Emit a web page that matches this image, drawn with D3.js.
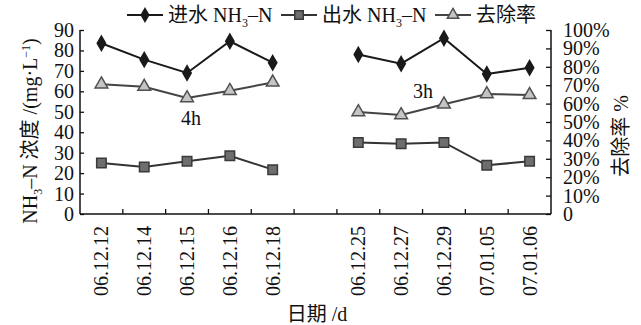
<!DOCTYPE html>
<html>
<head>
<meta charset="utf-8">
<script src="https://cdn.jsdelivr.net/npm/d3@7"></script>
<style>
  body { margin: 0; background: #fff; }
  svg text { font-family: "Liberation Serif", "Noto Sans CJK SC", serif; fill: #111; }
</style>
</head>
<body>
<div id="chart"></div>
<script>
// dates on the x axis, two runs (4h then 3h)
var dates = ["06.12.12", "06.12.14", "06.12.15", "06.12.16", "06.12.18",
             "06.12.25", "06.12.27", "06.12.29", "07.01.05", "07.01.06"];
var influent = [83.5, 75.5, 69, 84.5, 74, 78, 73.5, 86, 68.5, 71.5];
var effluent = [25, 23, 25.8, 28.5, 21.7, 35, 34.4, 35, 23.8, 25.8];
var removal = [70.5, 69.2, 63, 67, 71.5, 55.4, 53.8, 59.6, 65.2, 64.7];
var leftTicks = [0, 10, 20, 30, 40, 50, 60, 70, 80, 90];
var rightTicks = [0, 10, 20, 30, 40, 50, 60, 70, 80, 90, 100];

var width = 641, height = 325;
var mLeft = 80, mRight = 551, mTop = 30, mBottom = 214;

var svg = d3.select("#chart").append("svg")
    .attr("width", width).attr("height", height);

// empty slot between the two runs
var domain = dates.slice(0, 5).concat(["gap"]).concat(dates.slice(5));
var x = d3.scaleBand().domain(domain).range([mLeft, mRight]).padding(0);
var y = d3.scaleLinear().domain([0, 90]).range([mBottom, mTop]);
var y2 = d3.scaleLinear().domain([0, 100]).range([mBottom, mTop]);

var cx = function(i) { return x(dates[i]) + x.bandwidth() / 2; };

// axes
var yAxis = svg.append("g").attr("transform", "translate(" + mLeft + ",0)")
    .call(d3.axisRight(y).tickValues(leftTicks).tickSize(4).tickFormat(""));
var y2Axis = svg.append("g").attr("transform", "translate(" + mRight + ",0)")
    .call(d3.axisLeft(y2).tickValues(rightTicks).tickSize(5).tickFormat(""));
[yAxis, y2Axis].forEach(function(a) {
    a.select(".domain").attr("d", "M0," + mTop + "V" + mBottom).attr("stroke", "#111").attr("stroke-width", 1.5);
    a.selectAll(".tick line").attr("stroke", "#111").attr("stroke-width", 1.3);
});

svg.selectAll(".ylab").data(leftTicks).enter().append("text")
    .attr("x", mLeft - 6).attr("y", function(d) { return y(d); })
    .attr("dy", "0.35em").attr("text-anchor", "end")
    .style("font-size", "20px").text(function(d) { return d; });

svg.selectAll(".y2lab").data(rightTicks).enter().append("text")
    .attr("x", mRight + 12).attr("y", function(d) { return y2(d); })
    .attr("dy", "0.35em").attr("text-anchor", "start")
    .style("font-size", "20px").text(function(d) { return d === 0 ? "0" : d + "%"; });

// bottom axis
svg.append("line").attr("x1", mLeft).attr("x2", mRight).attr("y1", mBottom).attr("y2", mBottom)
    .attr("stroke", "#111").attr("stroke-width", 1.5);
svg.selectAll(".xtick").data(domain.slice(1)).enter().append("line")
    .attr("x1", function(d) { return x(d); }).attr("x2", function(d) { return x(d); })
    .attr("y1", mBottom).attr("y2", mBottom - 5)
    .attr("stroke", "#111").attr("stroke-width", 1.3);

svg.selectAll(".xlab").data(dates).enter().append("text")
    .attr("transform", function(d, i) { return "translate(" + (cx(i) + 7) + "," + (mBottom + 12) + ") rotate(-90)"; })
    .attr("text-anchor", "end")
    .style("font-size", "20px").text(function(d) { return d; });

// series
var runs = [[0, 1, 2, 3, 4], [5, 6, 7, 8, 9]];
var series = [
    { vals: influent, scale: y, stroke: "#1a1a1a", sym: d3.symbolDiamond, size: 60, fill: "#1a1a1a", mstroke: "#1a1a1a" },
    { vals: effluent, scale: y, stroke: "#333", sym: d3.symbolSquare, size: 90, fill: "#6e6e6e", mstroke: "#3a3a3a" },
    { vals: removal, scale: y2, stroke: "#444", sym: d3.symbolTriangle, size: 70, fill: "#c4c4c4", mstroke: "#505050" }
];

series.forEach(function(s) {
    var line = d3.line().x(function(i) { return cx(i); }).y(function(i) { return s.scale(s.vals[i]); });
    runs.forEach(function(r) {
        svg.append("path").attr("d", line(r)).attr("fill", "none")
            .attr("stroke", s.stroke).attr("stroke-width", 2);
    });
    svg.selectAll(null).data(d3.range(dates.length)).enter().append("path")
        .attr("d", d3.symbol().type(s.sym).size(s.size))
        .attr("transform", function(i) { return "translate(" + cx(i) + "," + s.scale(s.vals[i]) + ")"; })
        .attr("fill", s.fill).attr("stroke", s.mstroke).attr("stroke-width", 1.5);
});

// annotations
svg.append("text").attr("x", 191).attr("y", 125).attr("text-anchor", "middle")
    .style("font-size", "20px").text("4h");
svg.append("text").attr("x", 423).attr("y", 98).attr("text-anchor", "middle")
    .style("font-size", "20px").text("3h");

// legend
var legend = [
    { x: 127, s: series[0], label: "进水 NH", tail: "–N" },
    { x: 281, s: series[1], label: "出水 NH", tail: "–N" },
    { x: 435, s: series[2], label: "去除率", tail: null }
];
legend.forEach(function(l) {
    var g = svg.append("g").attr("transform", "translate(" + l.x + ",15)");
    g.append("line").attr("x1", 0).attr("x2", 36).attr("stroke", l.s.stroke).attr("stroke-width", 2);
    g.append("path").attr("d", d3.symbol().type(l.s.sym).size(l.s.size * 0.8))
        .attr("transform", "translate(18,0)")
        .attr("fill", l.s.fill).attr("stroke", l.s.mstroke).attr("stroke-width", 1.5);
    var t = g.append("text").attr("x", 41).attr("y", 7).style("font-size", "20px");
    t.append("tspan").text(l.label);
    if (l.tail) {
        t.append("tspan").attr("dy", 5).style("font-size", "12px").text("3");
        t.append("tspan").attr("dy", -5).text(l.tail);
    }
});

// axis titles
var yt = svg.append("text").attr("transform", "translate(37,131) rotate(-90)")
    .attr("text-anchor", "middle").style("font-size", "20px");
yt.append("tspan").text("NH");
yt.append("tspan").attr("dy", 5).style("font-size", "12px").text("3");
yt.append("tspan").attr("dy", -5).text("–N 浓度 /(mg·L");
yt.append("tspan").attr("dy", -7).style("font-size", "12px").text("−1");
yt.append("tspan").attr("dy", 7).text(")");

svg.append("text").attr("transform", "translate(628,136) rotate(-90)")
    .attr("text-anchor", "middle").style("font-size", "20px").text("去除率 %");

svg.append("text").attr("x", 317).attr("y", 321).attr("text-anchor", "middle")
    .style("font-size", "20px").text("日期 /d");
</script>
</body>
</html>
